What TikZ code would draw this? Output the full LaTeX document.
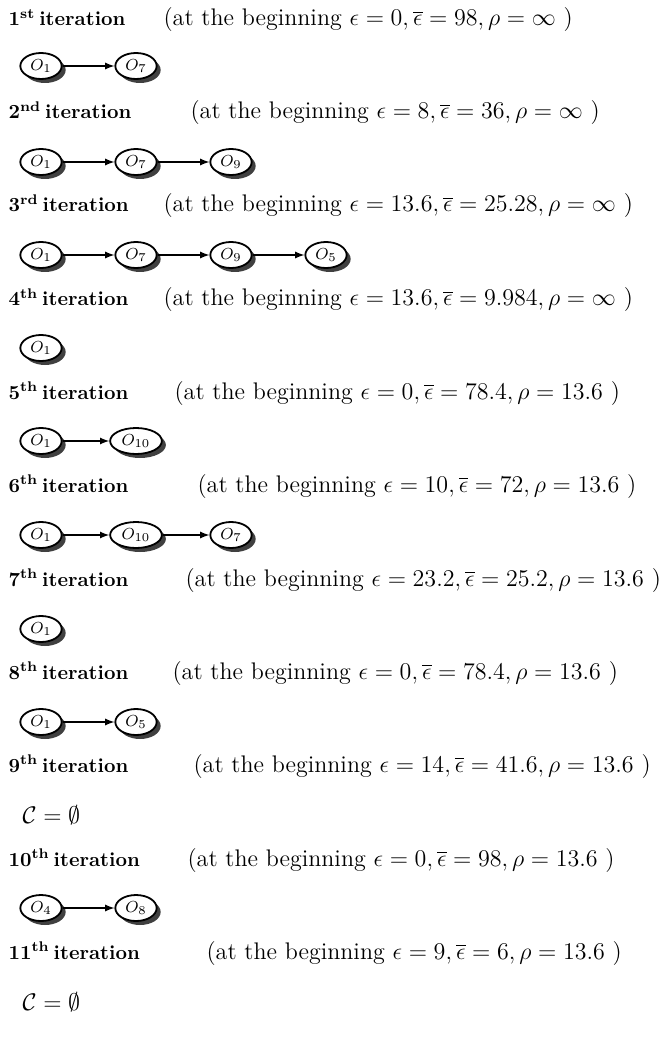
\documentclass[tikz,border=0pt]{standalone}
\usepackage{amsmath}
\usetikzlibrary{positioning, shapes.geometric, shadows}

\begin{document}
\begin{tikzpicture}[
  x=0.5pt, y=-0.5pt,
  >=latex, semithick,
  node distance=47.5pt, on grid,
  obj/.style  = {draw, line width=0.9pt, ellipse, fill=white,
                 inner xsep=2pt, inner ysep=0pt,
                 minimum width=19.5pt, minimum height=13pt,
                 font=\fontsize{8}{9}\selectfont,
                 drop shadow={fill=black!75, opacity=1,
                              shadow xshift=2pt, shadow yshift=-2pt}},
  iter/.style = {anchor=base west, inner sep=0pt, font=\bfseries},
  cond/.style = {anchor=base west, inner sep=0pt, font=\fontsize{12}{14}\selectfont},
]
  \useasboundingbox (0,0) rectangle (661,1037);

  % 1st iteration
  \node[iter] (h1) at (8,26)   {1\textsuperscript{st}\hspace{0.2em}iteration};
  \node[cond] (c1) at (163,26) {(at the beginning $\epsilon=0, \overline{\epsilon}=98, \rho=\infty$ )};
  \node[obj]              (r1o1) at (41,66) {$O_1$};
  \node[obj, right=of r1o1] (r1o7)          {$O_7$};
  \draw[->] (r1o1) -- (r1o7);

  % 2nd iteration
  \node[iter] (h2) at (8,119)   {2\textsuperscript{nd}\hspace{0.2em}iteration};
  \node[cond] (c2) at (190,119) {(at the beginning $\epsilon=8, \overline{\epsilon}=36, \rho=\infty$ )};
  \node[obj]                (r2o1) at (41,162) {$O_1$};
  \node[obj, right=of r2o1] (r2o7)           {$O_7$};
  \node[obj, right=of r2o7] (r2o9)           {$O_9$};
  \draw[->] (r2o1) -- (r2o7);
  \draw[->] (r2o7) -- (r2o9);

  % 3rd iteration
  \node[iter] (h3) at (8,212)   {3\textsuperscript{rd}\hspace{0.2em}iteration};
  \node[cond] (c3) at (163,212) {(at the beginning $\epsilon=13.6, \overline{\epsilon}=25.28, \rho=\infty$ )};
  \node[obj]                (r3o1) at (41,255) {$O_1$};
  \node[obj, right=of r3o1] (r3o7)           {$O_7$};
  \node[obj, right=of r3o7] (r3o9)           {$O_9$};
  \node[obj, right=of r3o9] (r3o5)           {$O_5$};
  \draw[->] (r3o1) -- (r3o7);
  \draw[->] (r3o7) -- (r3o9);
  \draw[->] (r3o9) -- (r3o5);

  % 4th iteration
  \node[iter] (h4) at (8,306)   {4\textsuperscript{th}\hspace{0.2em}iteration};
  \node[cond] (c4) at (163,306) {(at the beginning $\epsilon=13.6, \overline{\epsilon}=9.984, \rho=\infty$ )};
  \node[obj] (r4o1) at (41,348) {$O_1$};

  % 5th iteration
  \node[iter] (h5) at (8,399)   {5\textsuperscript{th}\hspace{0.2em}iteration};
  \node[cond] (c5) at (174,399) {(at the beginning $\epsilon=0, \overline{\epsilon}=78.4, \rho=13.6$ )};
  \node[obj]                (r5o1)  at (41,441) {$O_1$};
  \node[obj, right=of r5o1] (r5o10)           {$O_{10}$};
  \draw[->] (r5o1) -- (r5o10);

  % 6th iteration
  \node[iter] (h6) at (8,492)   {6\textsuperscript{th}\hspace{0.2em}iteration};
  \node[cond] (c6) at (197,492) {(at the beginning $\epsilon=10, \overline{\epsilon}=72, \rho=13.6$ )};
  \node[obj]                 (r6o1)  at (41,535) {$O_1$};
  \node[obj, right=of r6o1]  (r6o10)           {$O_{10}$};
  \node[obj, right=of r6o10] (r6o7)            {$O_7$};
  \draw[->] (r6o1)  -- (r6o10);
  \draw[->] (r6o10) -- (r6o7);

  % 7th iteration
  \node[iter] (h7) at (8,586)   {7\textsuperscript{th}\hspace{0.2em}iteration};
  \node[cond] (c7) at (185,586) {(at the beginning $\epsilon=23.2, \overline{\epsilon}=25.2, \rho=13.6$ )};
  \node[obj] (r7o1) at (41,629) {$O_1$};

  % 8th iteration
  \node[iter] (h8) at (8,679)   {8\textsuperscript{th}\hspace{0.2em}iteration};
  \node[cond] (c8) at (172,679) {(at the beginning $\epsilon=0, \overline{\epsilon}=78.4, \rho=13.6$ )};
  \node[obj]                (r8o1) at (41,722) {$O_1$};
  \node[obj, right=of r8o1] (r8o5)           {$O_5$};
  \draw[->] (r8o1) -- (r8o5);

  % 9th iteration
  \node[iter] (h9) at (8,772)   {9\textsuperscript{th}\hspace{0.2em}iteration};
  \node[cond] (c9) at (193,772) {(at the beginning $\epsilon=14, \overline{\epsilon}=41.6, \rho=13.6$ )};
  \node[cond] (e9) at (22,823)  {$\mathcal{C}=\emptyset$};

  % 10th iteration
  \node[iter] (h10) at (8,866)   {10\textsuperscript{th}\hspace{0.2em}iteration};
  \node[cond] (c10) at (187,866) {(at the beginning $\epsilon=0, \overline{\epsilon}=98, \rho=13.6$ )};
  \node[obj]                 (r10o4) at (41,908) {$O_4$};
  \node[obj, right=of r10o4] (r10o8)           {$O_8$};
  \draw[->] (r10o4) -- (r10o8);

  % 11th iteration
  \node[iter] (h11) at (8,959)   {11\textsuperscript{th}\hspace{0.2em}iteration};
  \node[cond] (c11) at (206,959) {(at the beginning $\epsilon=9, \overline{\epsilon}=6, \rho=13.6$ )};
  \node[cond] (e11) at (22,1010) {$\mathcal{C}=\emptyset$};
\end{tikzpicture}
\end{document}
